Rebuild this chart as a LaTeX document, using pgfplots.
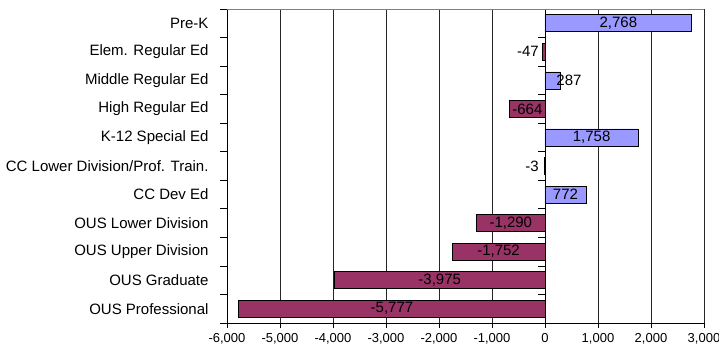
\documentclass[border=0pt]{standalone}
\usepackage{pgfplots}
\pgfplotsset{compat=1.18}
\usepackage{fontspec}
\setmainfont{Liberation Sans}
\definecolor{posbar}{HTML}{9999FF}
\definecolor{negbar}{HTML}{993366}
\pgfplotstableread{
x y label
1384 10 2,768
-321 9 -47
453 8 287
-332 7 -664
879 6 1,758
-245 5 -3
386 4 772
-645 3 -1,290
-876 2 -1,752
-1987 1 -3,975
-2888 0 -5,777
}\labeltable
\begin{document}
\begin{tikzpicture}
\path[use as bounding box] (-227bp,-24bp) rectangle (492bp,323bp);
\begin{axis}[
  at={(0,0)}, anchor=south west,
  scale only axis, width=477bp, height=314bp,
  xmin=-6000, xmax=3000, ymin=-0.5, ymax=10.5,
  axis x line*=bottom, axis y line*=left,
  axis line style={black, line width=0.8pt},
  xtick={-6000,-5000,...,3000},
  ytick={0,...,10},
  yticklabels={OUS Professional, OUS Graduate, OUS Upper Division, OUS Lower Division, CC Dev Ed, CC Lower Division/Prof. Train., K-12 Special Ed, High Regular Ed, Middle Regular Ed, Elem. Regular Ed, Pre-K},
  minor ytick={-0.5,0.5,...,10.5},
  tick align=outside,
  xtick pos=bottom, ytick pos=left,
  major tick length=5bp, minor tick length=7bp,
  major y tick style={draw=none},
  minor y tick style={black, line width=0.8pt},
  major x tick style={black, line width=0.8pt},
  xmajorgrids, major x grid style={black!85, line width=0.7pt},
  /pgf/number format/assume math mode=true,
  /pgf/number format/1000 sep={,},
  scaled x ticks=false,
  xticklabel style={font=\fontsize{13bp}{15bp}\selectfont, yshift=-1.5bp},
  yticklabel style={font=\fontsize{15bp}{18bp}\selectfont, xshift=-10bp},
]
\addplot[xbar, bar shift=0pt, bar width=17bp, fill=posbar, draw=black, line width=0.7pt]
  coordinates {(2768,10) (287,8) (1758,6) (772,4)};
\addplot[xbar, bar shift=0pt, bar width=17bp, fill=negbar, draw=black, line width=0.7pt]
  coordinates {(-47,9) (-664,7) (-3,5) (-1290,3) (-1752,2) (-3975,1) (-5777,0)};
\draw[black, line width=0.8pt] (axis cs:0,-0.5) -- (axis cs:0,10.5);
\pgfplotsinvokeforeach{-0.5,0.5,1.5,2.5,3.5,4.5,5.5,6.5,7.5,8.5,9.5,10.5}{
  \draw[black, line width=0.8pt] (axis cs:0,#1) -- ++(-7bp,0pt);
}
\draw[black!50, line width=0.7pt] (rel axis cs:0,1) -- (rel axis cs:1,1);
\addplot[draw=none, mark=none, nodes near coords, point meta=explicit symbolic,
  every node near coord/.append style={anchor=center, font=\fontsize{15bp}{18bp}\selectfont, text=black, inner sep=0pt}]
  table[x=x, y=y, meta=label] {\labeltable};
\end{axis}
\end{tikzpicture}
\end{document}
